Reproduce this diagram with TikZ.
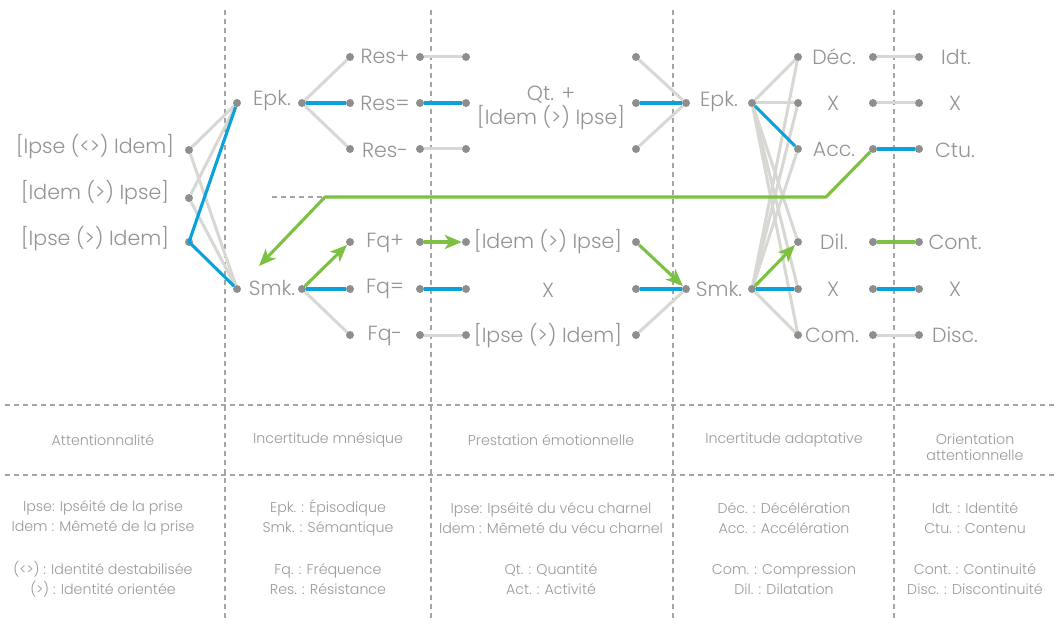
\documentclass[tikz,border=0pt]{standalone}
\usepackage{fontspec}
\setmainfont{Poppins}[UprightFont={* Light}]
\usepackage{xcolor}
\usepackage{tikz}
\usetikzlibrary{arrows.meta,positioning}
\definecolor{txtgray}{HTML}{939393}
\definecolor{leggray}{HTML}{999999}
\definecolor{dotgray}{HTML}{8E8E8E}
\definecolor{linegray}{HTML}{D7D7D3}
\definecolor{sepgray}{HTML}{A5A5A5}
\definecolor{lineblue}{HTML}{0AA2D8}
\definecolor{linegreen}{HTML}{7CC142}
\tikzstyle{dot} = [circle,fill=dotgray,inner sep=0pt,minimum size=8pt]
\tikzstyle{lbl} = [text=txtgray,inner sep=0pt,font=\fontsize{20.5}{24}\selectfont,align=center]
\tikzstyle{leg} = [text=leggray,inner sep=0pt,font=\fontsize{14.2}{20.5}\selectfont,align=center]
\tikzstyle{sep} = [draw=sepgray,line width=1.3pt,dash pattern=on 5pt off 4pt]
\tikzstyle{gline} = [draw=linegray,line width=3pt]
\tikzstyle{bline} = [draw=lineblue,line width=3.1pt,line join=round]
\tikzstyle{grline} = [draw=linegreen,line width=3.1pt,line join=round]
\tikzstyle{arrow} = [grline,-{Stealth[length=17pt,width=14pt,inset=4.5pt]}]

\begin{document}
\begin{tikzpicture}[x=1pt,y=-1pt]
\useasboundingbox (0,0) rectangle (1057,644);
\draw[sep] (225,10) -- (225,618);
\draw[sep] (431,10) -- (431,618);
\draw[sep] (673,10) -- (673,618);
\draw[sep] (894,10) -- (894,618);
\draw[sep] (5,405) -- (1055,405);
\draw[sep] (5,475) -- (1055,475);

\node[lbl] (la1) at (95,147) {[Ipse (<>) Idem]};
\node[lbl] (la2) at (95,193) {[Idem (>) Ipse]};
\node[lbl] (la3) at (95,239) {[Ipse (>) Idem]};
\node[dot] (a1) at (189,150) {};
\node[dot] (a2) at (189,198) {};
\node[dot] (a3) at (189,242) {};

\node[dot] (b1) at (237,103) {};
\node[lbl] (lb1) at (272,101) {Epk.};
\node[dot] (b1r) at (302,103) {};
\node[dot] (b2) at (237,289) {};
\node[lbl] (lb2) at (272,288) {Smk.};
\node[dot] (b2r) at (302,289) {};

\node[dot] (c1) at (350,57) {};
\node[lbl] (lc1) at (385,56) {Res+};
\node[dot] (c1r) at (420,57) {};
\node[dot] (c2) at (350,103) {};
\node[lbl] (lc2) at (385,103) {Res=};
\node[dot] (c2r) at (420,103) {};
\node[dot] (c3) at (350,149) {};
\node[lbl] (lc3) at (385,150) {Res-};
\node[dot] (c3r) at (420,149) {};
\node[dot] (c4) at (350,242) {};
\node[lbl] (lc4) at (385,243) {Fq+};
\node[dot] (c4r) at (420,242) {};
\node[dot] (c5) at (350,289) {};
\node[lbl] (lc5) at (385,289) {Fq=};
\node[dot] (c5r) at (420,289) {};
\node[dot] (c6) at (350,335) {};
\node[lbl] (lc6) at (385,336) {Fq-};
\node[dot] (c6r) at (420,335) {};

\node[dot] (d1) at (466,57) {};
\node[dot] (d1r) at (636,57) {};
\node[dot] (d2) at (466,103) {};
\node[lbl] (ld2) at (551,108) {Qt. +\\{}[Idem (>) Ipse]};
\node[dot] (d2r) at (636,103) {};
\node[dot] (d3) at (466,149) {};
\node[dot] (d3r) at (636,149) {};
\node[dot] (d4) at (466,242) {};
\node[lbl] (ld4) at (548,242) {[Idem (>) Ipse]};
\node[dot] (d4r) at (636,242) {};
\node[dot] (d5) at (466,289) {};
\node[lbl] (ld5) at (548,290) {X};
\node[dot] (d5r) at (636,289) {};
\node[dot] (d6) at (466,335) {};
\node[lbl] (ld6) at (548,336) {[Ipse (>) Idem]};
\node[dot] (d6r) at (636,335) {};

\node[dot] (e1) at (686,103) {};
\node[lbl] (le1) at (719,102) {Epk.};
\node[dot] (e1r) at (752,103) {};
\node[dot] (e2) at (686,289) {};
\node[lbl] (le2) at (719,289) {Smk.};
\node[dot] (e2r) at (752,289) {};

\node[dot] (f1) at (798,57) {};
\node[lbl] (lf1) at (834,57) {Déc.};
\node[dot] (f1r) at (873,57) {};
\node[dot] (f2) at (798,103) {};
\node[lbl] (lf2) at (833,103) {X};
\node[dot] (f2r) at (873,103) {};
\node[dot] (f3) at (798,149) {};
\node[lbl] (lf3) at (834,150) {Acc.};
\node[dot] (f3r) at (873,149) {};
\node[dot] (f4) at (798,242) {};
\node[lbl] (lf4) at (834,242) {Dil.};
\node[dot] (f4r) at (873,242) {};
\node[dot] (f5) at (798,289) {};
\node[lbl] (lf5) at (833,289) {X};
\node[dot] (f5r) at (873,289) {};
\node[dot] (f6) at (798,335) {};
\node[lbl] (lf6) at (832,335) {Com.};
\node[dot] (f6r) at (873,335) {};

\node[dot] (g1) at (919,57) {};
\node[lbl] (lg1) at (956,57) {Idt.};
\node[dot] (g2) at (919,103) {};
\node[lbl] (lg2) at (955,103) {X};
\node[dot] (g3) at (919,149) {};
\node[lbl] (lg3) at (955,150) {Ctu.};
\node[dot] (g4) at (919,242) {};
\node[lbl] (lg4) at (955,242) {Cont.};
\node[dot] (g5) at (919,289) {};
\node[lbl] (lg5) at (955,289) {X};
\node[dot] (g6) at (919,335) {};
\node[lbl] (lg6) at (955,335) {Disc.};

\coordinate (gdash) at (272,197);
\coordinate (gk1) at (325,197);
\coordinate (gk2) at (826,197);
\coordinate (gend) at (259,266);

\draw[gline] (a1)--(b1);
\draw[gline] (a2)--(b1);
\draw[gline] (a1)--(b2);
\draw[gline] (a2)--(b2);
\draw[gline] (b1r)--(c1);
\draw[gline] (b1r)--(c3);
\draw[gline] (c1r)--(d1);
\draw[gline] (c3r)--(d3);
\draw[gline] (d1r)--(e1);
\draw[gline] (d3r)--(e1);
\draw[gline] (b2r)--(c6);
\draw[gline] (c6r)--(d6);
\draw[gline] (d6r)--(e2);
\draw[gline] (e1r)--(f1);
\draw[gline] (e1r)--(f2);
\draw[gline] (e1r)--(f4);
\draw[gline] (e1r)--(f5);
\draw[gline] (e1r)--(f6);
\draw[gline] (e2r)--(f1);
\draw[gline] (e2r)--(f2);
\draw[gline] (e2r)--(f3);
\draw[gline] (e2r)--(f6);
\draw[gline] (f1r)--(g1);
\draw[gline] (f2r)--(g2);
\draw[gline] (f6r)--(g6);

\draw[bline] (b1)--(a3.center)--(b2);
\draw[bline] (b1r)--(c2);
\draw[bline] (c2r)--(d2);
\draw[bline] (d2r)--(e1);
\draw[bline] (b2r)--(c5);
\draw[bline] (c5r)--(d5);
\draw[bline] (d5r)--(e2);
\draw[bline] (e1r)--(f3);
\draw[bline] (f3r)--(g3);
\draw[bline] (e2r)--(f5);
\draw[bline] (f5r)--(g5);

\draw[sep] (gdash)--(gk1);
\draw[arrow] (f3r)--(gk2)--(gk1)--(gend);
\draw[arrow] (b2r)--(c4);
\draw[arrow] (c4r)--(d4);
\draw[arrow] (d4r)--(e2);
\draw[arrow] (e2r)--(f4);
\draw[grline] (f4r)--(g4);

\node[leg] (ta) at (103,440) {Attentionnalité};
\node[leg] (tb) at (328,440) {Incertitude mnésique};
\node[leg] (tc) at (551,440) {Prestation émotionnelle};
\node[leg] (td) at (784,440) {Incertitude adaptative};
\node[leg,font=\fontsize{14.2}{16}\selectfont] (te) at (975,447) {Orientation\\attentionnelle};

\node[leg] (ka1) at (103,518) {Ipse: Ipséité de la prise\\Idem : Mêmeté de la prise};
\node[leg] (ka2) at (103,579) {(<>) : Identité destabilisée\\(>) : Identité orientée};
\node[leg] (kb1) at (328,518) {Epk. : Épisodique\\Smk. : Sémantique};
\node[leg] (kb2) at (328,579) {Fq. : Fréquence\\Res. : Résistance};
\node[leg] (kc1) at (551,518) {Ipse: Ipséité du vécu charnel\\Idem : Mêmeté du vécu charnel};
\node[leg] (kc2) at (551,579) {Qt. : Quantité\\Act. : Activité};
\node[leg] (kd1) at (784,518) {Déc. : Décélération\\Acc. : Accélération};
\node[leg] (kd2) at (784,579) {Com. : Compression\\Dil. : Dilatation};
\node[leg] (ke1) at (975,518) {Idt. : Identité\\Ctu. : Contenu};
\node[leg] (ke2) at (975,579) {Cont. : Continuité\\Disc. : Discontinuité};
\end{tikzpicture}
\end{document}
